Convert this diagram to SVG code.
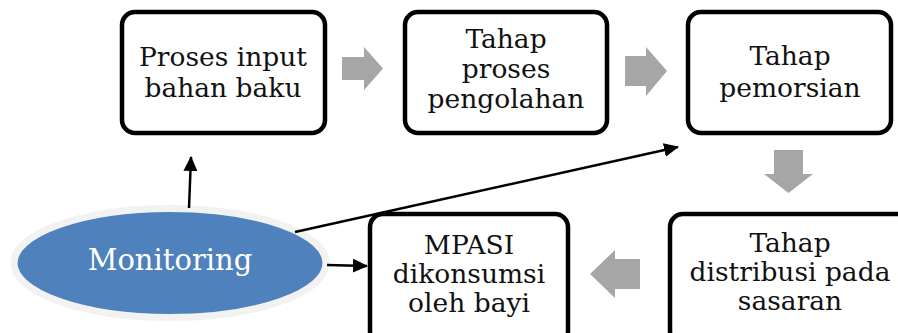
<svg xmlns="http://www.w3.org/2000/svg" width="898" height="333" viewBox="0 0 898 333">
<defs>
<style>
.box{fill:#fff;stroke:#000;stroke-width:4.5}
.t{font-family:"DejaVu Serif","Liberation Serif",serif;font-size:26.5px;fill:#111;text-anchor:middle}
.mt{font-family:"DejaVu Serif","Liberation Serif",serif;font-size:29px;fill:#fff;text-anchor:middle}
.ga{fill:#a6a6a6}
.con{stroke:#000;stroke-width:2.5;fill:none}
</style>
<marker id="ah" markerUnits="userSpaceOnUse" markerWidth="16" markerHeight="16" viewBox="0 0 16 16" refX="14" refY="8" orient="auto">
<path d="M0,1 L15,8 L0,15 Z" fill="#000"/>
</marker>
</defs>
<g id="n1">
<rect class="box" x="122" y="12" width="203" height="121" rx="13"/>
<text class="t" x="223" y="66">Proses input</text>
<text class="t" x="223" y="97">bahan baku</text>
</g>
<g id="n2">
<rect class="box" x="405" y="12" width="202" height="121" rx="13"/>
<text class="t" x="506" y="48">Tahap</text>
<text class="t" x="506" y="78">proses</text>
<text class="t" x="506" y="108">pengolahan</text>
</g>
<g id="n3">
<rect class="box" x="688" y="12" width="203" height="121" rx="13"/>
<text class="t" x="790" y="65">Tahap</text>
<text class="t" x="790" y="97">pemorsian</text>
</g>
<g id="n4">
<rect class="box" x="370" y="214" width="198" height="130" rx="13"/>
<text class="t" x="469" y="254">MPASI</text>
<text class="t" x="469" y="283">dikonsumsi</text>
<text class="t" x="469" y="312">oleh bayi</text>
</g>
<g id="n5">
<rect class="box" x="670" y="214" width="250" height="130" rx="13"/>
<text class="t" x="790" y="252">Tahap</text>
<text class="t" x="790" y="281">distribusi pada</text>
<text class="t" x="790" y="310">sasaran</text>
</g>
<g id="monitoring">
<ellipse cx="170" cy="263" rx="156" ry="54.5" fill="#4f81bd" stroke="#f2f2f2" stroke-width="7"/>
<text class="mt" x="170" y="270">Monitoring</text>
</g>
<g id="flow-arrows">
<polygon class="ga" points="342,57 364,57 364,47 383,68.5 364,90 364,80 342,80"/>
<polygon class="ga" points="625,56 646,56 646,47 667,71 646,96 646,86 625,86"/>
<polygon class="ga" points="774,150 803,150 803,174 813,174 788.5,193 764,174 774,174"/>
<polygon class="ga" points="640,259 615,259 615,250 590,274 615,298 615,289 640,289"/>
</g>
<g id="connectors">
<line class="con" x1="189" y1="208" x2="191" y2="157" marker-end="url(#ah)"/>
<line class="con" x1="295" y1="232" x2="678" y2="147" marker-end="url(#ah)"/>
<line class="con" x1="327" y1="265" x2="367" y2="266" marker-end="url(#ah)"/>
</g>
</svg>
